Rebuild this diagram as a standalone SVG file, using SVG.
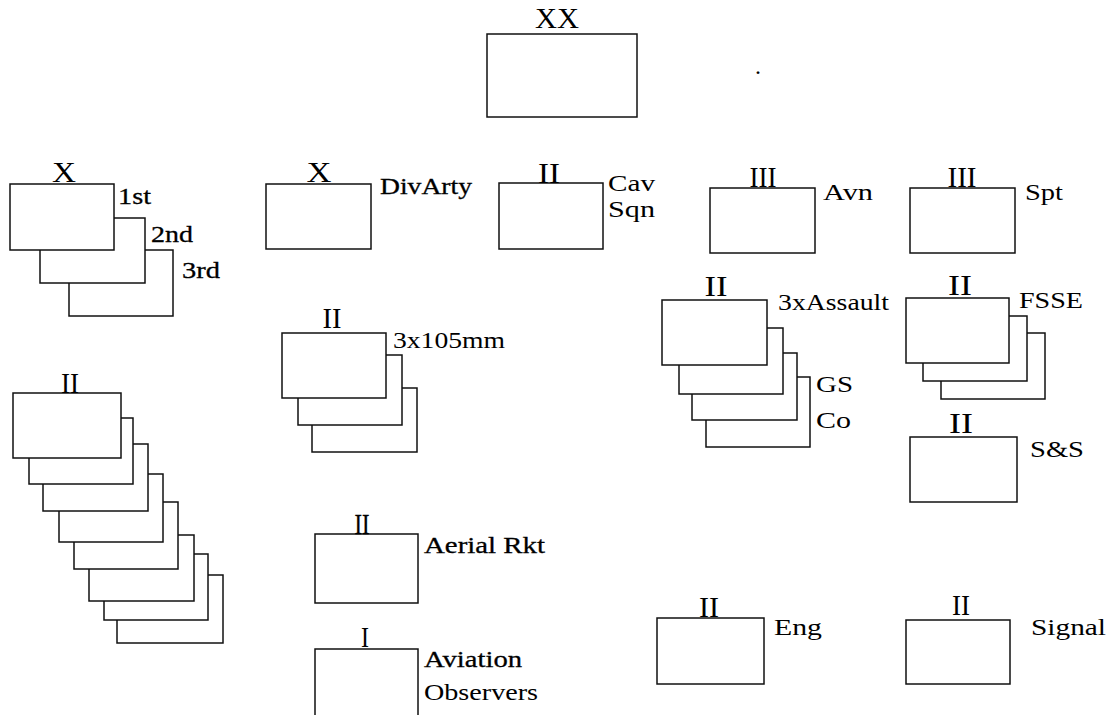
<svg xmlns="http://www.w3.org/2000/svg" width="1112" height="715" viewBox="0 0 1112 715">
<style>
rect{fill:#fff;stroke:#111;stroke-width:1.5}
text{font-family:"Liberation Serif","Times New Roman",serif;fill:#000}
.ech{font-size:29px;text-anchor:middle}
.lb{font-size:24px}
.b{stroke:#000;stroke-width:0.3}
</style>
<rect x="0" y="0" width="1112" height="715" style="stroke:none"/>
<g id="connectors"/>
<g id="division">
<rect x="487" y="34" width="150" height="83"/>
<text class="ech" x="557" y="28" textLength="44" lengthAdjust="spacingAndGlyphs">XX</text>
</g>
<text class="lb" x="755" y="74">.</text>
<g id="brigades">
<rect x="69" y="250" width="104" height="66"/>
<rect x="40" y="218" width="105" height="65"/>
<rect x="10" y="184" width="104" height="66"/>
<text class="ech" x="64" y="182" textLength="24" lengthAdjust="spacingAndGlyphs">X</text>
<text class="lb b" x="118" y="204" textLength="33" lengthAdjust="spacingAndGlyphs">1st</text>
<text class="lb b" x="151" y="242" textLength="42" lengthAdjust="spacingAndGlyphs">2nd</text>
<text class="lb b" x="182" y="278" textLength="38" lengthAdjust="spacingAndGlyphs">3rd</text>
</g>
<g id="divarty">
<rect x="266" y="184" width="105" height="65"/>
<text class="ech" x="319" y="182" textLength="25" lengthAdjust="spacingAndGlyphs">X</text>
<text class="lb b" x="380" y="194" textLength="92" lengthAdjust="spacingAndGlyphs">DivArty</text>
</g>
<g id="cav-sqn">
<rect x="499" y="183" width="104" height="66"/>
<text class="ech" x="549" y="183" textLength="22" lengthAdjust="spacingAndGlyphs">II</text>
<text class="lb" x="608" y="191" textLength="47" lengthAdjust="spacingAndGlyphs">Cav</text>
<text class="lb" x="608" y="217" textLength="47" lengthAdjust="spacingAndGlyphs">Sqn</text>
</g>
<g id="avn">
<rect x="710" y="188" width="105" height="65"/>
<text class="ech" x="763" y="187" textLength="27" lengthAdjust="spacingAndGlyphs">III</text>
<text class="lb" x="823" y="200" textLength="50" lengthAdjust="spacingAndGlyphs">Avn</text>
</g>
<g id="spt">
<rect x="910" y="188" width="105" height="65"/>
<text class="ech" x="962" y="187" textLength="29" lengthAdjust="spacingAndGlyphs">III</text>
<text class="lb" x="1025" y="200" textLength="38" lengthAdjust="spacingAndGlyphs">Spt</text>
</g>
<g id="assault">
<rect x="706" y="377" width="104" height="70"/>
<rect x="692" y="353" width="105" height="67"/>
<rect x="679" y="328" width="104" height="66"/>
<rect x="662" y="300" width="105" height="65"/>
<text class="ech" x="716" y="296" textLength="23" lengthAdjust="spacingAndGlyphs">II</text>
<text class="lb" x="778" y="310" textLength="111" lengthAdjust="spacingAndGlyphs">3xAssault</text>
<text class="lb" x="816" y="392" textLength="37" lengthAdjust="spacingAndGlyphs">GS</text>
<text class="lb" x="816" y="428" textLength="35" lengthAdjust="spacingAndGlyphs">Co</text>
</g>
<g id="fsse">
<rect x="941" y="333" width="104" height="66"/>
<rect x="923" y="316" width="104" height="65"/>
<rect x="906" y="298" width="103" height="65"/>
<text class="ech" x="960" y="295" textLength="24" lengthAdjust="spacingAndGlyphs">II</text>
<text class="lb" x="1019" y="308" textLength="64" lengthAdjust="spacingAndGlyphs">FSSE</text>
</g>
<g id="ss">
<rect x="910" y="437" width="107" height="65"/>
<text class="ech" x="961" y="433" textLength="24" lengthAdjust="spacingAndGlyphs">II</text>
<text class="lb" x="1030" y="457" textLength="54" lengthAdjust="spacingAndGlyphs">S&amp;S</text>
</g>
<g id="bn105">
<rect x="312" y="388" width="105" height="64"/>
<rect x="298" y="355" width="104" height="70"/>
<rect x="282" y="333" width="104" height="65"/>
<text class="ech" x="332" y="328" textLength="19" lengthAdjust="spacingAndGlyphs">II</text>
<text class="lb" x="393" y="348" textLength="112" lengthAdjust="spacingAndGlyphs">3x105mm</text>
</g>
<g id="maneuver-bns">
<rect x="117" y="575" width="106" height="68"/>
<rect x="104" y="554" width="104" height="66"/>
<rect x="89" y="535" width="105" height="66"/>
<rect x="74" y="502" width="104" height="67"/>
<rect x="59" y="474" width="104" height="68"/>
<rect x="43" y="444" width="105" height="67"/>
<rect x="29" y="418" width="104" height="66"/>
<rect x="13" y="393" width="108" height="65"/>
<text class="ech" x="70" y="393" textLength="18" lengthAdjust="spacingAndGlyphs">II</text>
</g>
<g id="aerial-rkt">
<rect x="315" y="534" width="103" height="69"/>
<text class="ech b" x="362" y="534" textLength="15" lengthAdjust="spacingAndGlyphs">II</text>
<text class="lb b" x="424" y="553" textLength="121" lengthAdjust="spacingAndGlyphs">Aerial Rkt</text>
</g>
<g id="aviation-obs">
<rect x="315" y="649" width="103" height="68"/>
<text class="ech" x="365" y="647" textLength="8" lengthAdjust="spacingAndGlyphs">I</text>
<text class="lb b" x="424" y="667" textLength="98" lengthAdjust="spacingAndGlyphs">Aviation</text>
<text class="lb" x="424" y="700" textLength="114" lengthAdjust="spacingAndGlyphs">Observers</text>
</g>
<g id="eng">
<rect x="657" y="618" width="107" height="66"/>
<text class="ech" x="709" y="617" textLength="20" lengthAdjust="spacingAndGlyphs">II</text>
<text class="lb" x="774" y="635" textLength="48" lengthAdjust="spacingAndGlyphs">Eng</text>
</g>
<g id="signal">
<rect x="906" y="620" width="104" height="64"/>
<text class="ech" x="961" y="615" textLength="18" lengthAdjust="spacingAndGlyphs">II</text>
<text class="lb" x="1031" y="635" textLength="75" lengthAdjust="spacingAndGlyphs">Signal</text>
</g>
</svg>
